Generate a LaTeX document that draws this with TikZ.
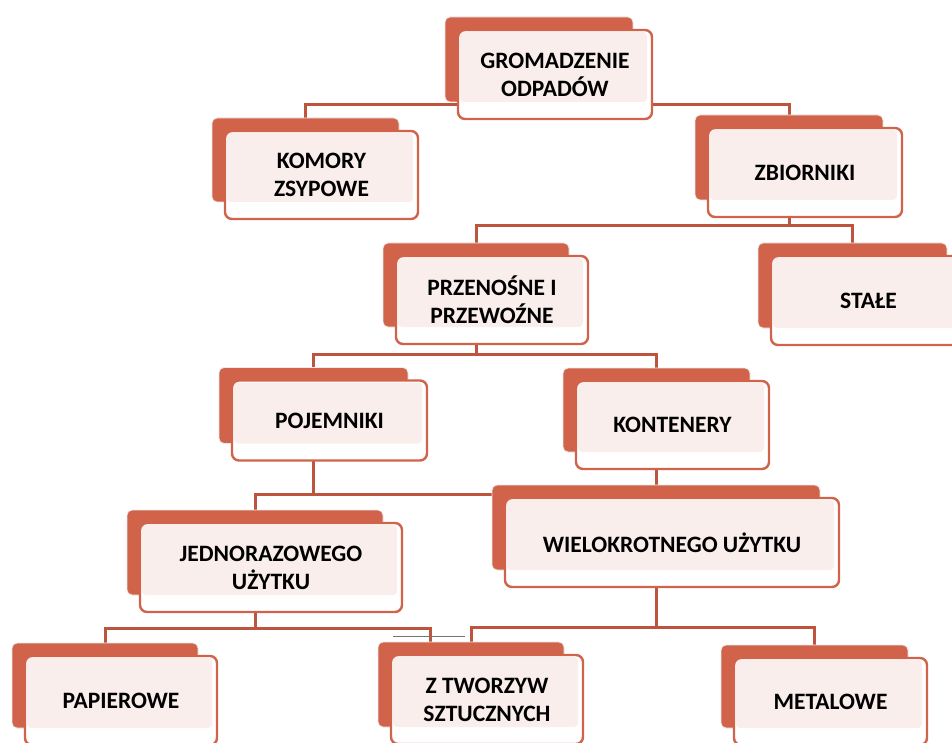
\documentclass[tikz,border=0pt]{standalone}
\usepackage{fontspec}
\setmainfont{Carlito}
\usetikzlibrary{calc,backgrounds}
\pgfdeclarelayer{bottom}
\pgfsetlayers{bottom,background,main}
\definecolor{borange}{RGB}{209,99,74}
\definecolor{pinkf}{RGB}{249,238,235}
\definecolor{connc}{RGB}{188,84,62}
\tikzset{
  aback/.style={fill=borange, draw=black!8, line width=0.8pt, rounded corners=5pt, inner sep=0pt},
  bfront/.style={draw=borange, line width=2.4pt, rounded corners=7pt, inner sep=0pt,
    align=center, font=\bfseries\fontsize{23.5}{28}\selectfont,
    path picture={
      \fill[white] (path picture bounding box.south west) rectangle (path picture bounding box.north east);
      \fill[pinkf, rounded corners=4pt] ([xshift=2pt,yshift=-2pt]path picture bounding box.north west)
        rectangle ([xshift=-5pt,yshift=17pt]path picture bounding box.south east);
    }},
  conn/.style={draw=connc, line width=3pt},
}
% #1 name, #2 position, #3 width, #4 height, #5 text
\newcommand{\orgbox}[5]{%
  \node[aback, minimum width=#3, minimum height=#4] (#1) at (#2) {};
  \node[bfront, minimum width=#3+6, minimum height=#4+4] (#1-f) at ($(#1.center)+(16,15)$) {#5};
}
\begin{document}
\begin{tikzpicture}[x=1pt,y=-1pt]
\begin{pgfonlayer}{bottom}
  \fill[white] (0,0) rectangle (952,743);
\end{pgfonlayer}
\useasboundingbox (0,0) rectangle (952,743);

\orgbox{grom}{539,59.5}{188}{85}{GROMADZENIE\\ODPADÓW}
\orgbox{komory}{305.5,160}{187}{84}{KOMORY\\ZSYPOWE}
\orgbox{zbiorniki}{789,157.5}{188}{85}{ZBIORNIKI}
\orgbox{przen}{476,285}{186}{84}{PRZENOŚNE I\\PRZEWOŹNE}
\orgbox{stale}{852.5,285.5}{189}{85}{STAŁE}
\orgbox{pojem}{313.5,405.5}{189}{76}{POJEMNIKI}
\orgbox{kont}{656.5,410}{187}{84}{KONTENERY}
\orgbox{jedn}{255,552.5}{256}{85}{JEDNORAZOWEGO\\UŻYTKU}
\orgbox{wiel}{656,527.5}{328}{85}{WIELOKROTNEGO UŻYTKU}
\orgbox{pap}{105,685.5}{186}{85}{PAPIEROWE}
\orgbox{ztw}{471,684.5}{186}{85}{Z TWORZYW\\SZTUCZNYCH}
\orgbox{met}{814.5,686.5}{187}{83}{METALOWE}

\begin{scope}[on background layer]
  \coordinate (j1) at (539,105);
  \draw[conn] (grom.center) -- (j1);
  \draw[conn] (komory.north) |- (j1) -| (zbiorniki.north);

  \coordinate (j2) at (789,226);
  \draw[conn] (zbiorniki.center) -- (j2);
  \draw[conn] (przen.north) |- (j2) -| (stale.north);

  \coordinate (j3) at (476,354);
  \draw[conn] (przen.center) -- (j3);
  \draw[conn] (pojem.north) |- (j3) -| (kont.north);

  \coordinate (j4) at (313.5,494);
  \draw[conn] (pojem.center) -- (j4);
  \draw[conn] (jedn.north) |- (j4) -- (wiel.west |- j4);

  \draw[conn] (kont.center) -- (kont.center |- wiel.north);

  \coordinate (j5) at (255,628);
  \coordinate (ztwl) at ($(ztw.north)+(-41,0)$);
  \draw[conn] (jedn.center) -- (j5);
  \draw[conn] (pap.north) |- (j5) -| (ztwl);

  \coordinate (j6) at (656,627);
  \draw[conn] (wiel.center) -- (j6);
  \draw[conn] (ztw.north) |- (j6) -| (met.north);

  \coordinate (g1) at ($(ztw.north)+(-78,-5)$);
  \coordinate (g2) at ($(ztw.north)+(-6,-5)$);
  \draw[black!55, line width=0.8pt] (g1) -- (g2);
\end{scope}
\end{tikzpicture}
\end{document}
